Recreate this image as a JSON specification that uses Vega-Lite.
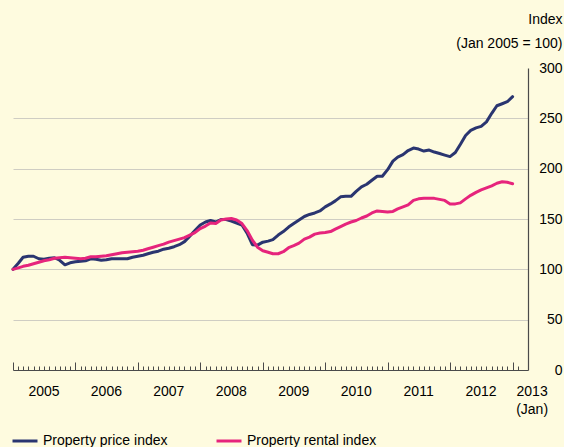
{
  "$schema": "https://vega.github.io/schema/vega-lite/v6.json",
  "width": 515,
  "height": 302,
  "autosize": {"type": "none"},
  "padding": {"left": 13, "top": 68, "right": 36, "bottom": 77},
  "background": "#fefbdf",
  "config": {"view": {"stroke": null}, "font": "Liberation Sans"},
  "data": {"values": [
    {"date": "2005-01-01", "price": 100, "rental": 100},
    {"date": "2005-02-01", "price": 106, "rental": 101.5},
    {"date": "2005-03-01", "price": 112, "rental": 103},
    {"date": "2005-04-01", "price": 113, "rental": 104},
    {"date": "2005-05-01", "price": 113, "rental": 105.5},
    {"date": "2005-06-01", "price": 110.5, "rental": 107},
    {"date": "2005-07-01", "price": 110, "rental": 108.5},
    {"date": "2005-08-01", "price": 111, "rental": 109.5},
    {"date": "2005-09-01", "price": 111.5, "rental": 111},
    {"date": "2005-10-01", "price": 109, "rental": 111.5},
    {"date": "2005-11-01", "price": 104.5, "rental": 112},
    {"date": "2005-12-01", "price": 106.5, "rental": 111.5},
    {"date": "2006-01-01", "price": 107.5, "rental": 111},
    {"date": "2006-02-01", "price": 108, "rental": 110.5},
    {"date": "2006-03-01", "price": 108.5, "rental": 111},
    {"date": "2006-04-01", "price": 110.5, "rental": 112.5},
    {"date": "2006-05-01", "price": 110, "rental": 112.5},
    {"date": "2006-06-01", "price": 109, "rental": 113},
    {"date": "2006-07-01", "price": 109.5, "rental": 113.5},
    {"date": "2006-08-01", "price": 110.5, "rental": 114.5},
    {"date": "2006-09-01", "price": 110.5, "rental": 115.5},
    {"date": "2006-10-01", "price": 110.5, "rental": 116.5},
    {"date": "2006-11-01", "price": 110.5, "rental": 117},
    {"date": "2006-12-01", "price": 112, "rental": 117.5},
    {"date": "2007-01-01", "price": 113, "rental": 118},
    {"date": "2007-02-01", "price": 114, "rental": 119},
    {"date": "2007-03-01", "price": 115.5, "rental": 120.5},
    {"date": "2007-04-01", "price": 117, "rental": 122},
    {"date": "2007-05-01", "price": 118, "rental": 123.5},
    {"date": "2007-06-01", "price": 120, "rental": 125},
    {"date": "2007-07-01", "price": 121, "rental": 127},
    {"date": "2007-08-01", "price": 122.5, "rental": 128.5},
    {"date": "2007-09-01", "price": 124.5, "rental": 130},
    {"date": "2007-10-01", "price": 127.5, "rental": 131.5},
    {"date": "2007-11-01", "price": 133, "rental": 134},
    {"date": "2007-12-01", "price": 138.5, "rental": 136.5},
    {"date": "2008-01-01", "price": 144, "rental": 140.5},
    {"date": "2008-02-01", "price": 147, "rental": 143},
    {"date": "2008-03-01", "price": 148.5, "rental": 146},
    {"date": "2008-04-01", "price": 147, "rental": 145.5},
    {"date": "2008-05-01", "price": 149.5, "rental": 149},
    {"date": "2008-06-01", "price": 149.5, "rental": 150},
    {"date": "2008-07-01", "price": 148, "rental": 150.5},
    {"date": "2008-08-01", "price": 146, "rental": 149},
    {"date": "2008-09-01", "price": 144, "rental": 145.5},
    {"date": "2008-10-01", "price": 136, "rental": 138.5},
    {"date": "2008-11-01", "price": 124.5, "rental": 129},
    {"date": "2008-12-01", "price": 124, "rental": 122},
    {"date": "2009-01-01", "price": 127, "rental": 118.5},
    {"date": "2009-02-01", "price": 128, "rental": 117},
    {"date": "2009-03-01", "price": 129.5, "rental": 115.5},
    {"date": "2009-04-01", "price": 134, "rental": 115.5},
    {"date": "2009-05-01", "price": 137.5, "rental": 117.5},
    {"date": "2009-06-01", "price": 142, "rental": 121.5},
    {"date": "2009-07-01", "price": 145.5, "rental": 123.5},
    {"date": "2009-08-01", "price": 149, "rental": 126},
    {"date": "2009-09-01", "price": 152.5, "rental": 130},
    {"date": "2009-10-01", "price": 154.5, "rental": 132},
    {"date": "2009-11-01", "price": 156, "rental": 135},
    {"date": "2009-12-01", "price": 158, "rental": 136},
    {"date": "2010-01-01", "price": 162, "rental": 136.5},
    {"date": "2010-02-01", "price": 165, "rental": 137.5},
    {"date": "2010-03-01", "price": 168, "rental": 140},
    {"date": "2010-04-01", "price": 172, "rental": 142.5},
    {"date": "2010-05-01", "price": 172.5, "rental": 145},
    {"date": "2010-06-01", "price": 172.5, "rental": 147},
    {"date": "2010-07-01", "price": 177.5, "rental": 148.5},
    {"date": "2010-08-01", "price": 182, "rental": 151},
    {"date": "2010-09-01", "price": 184.5, "rental": 153},
    {"date": "2010-10-01", "price": 188.5, "rental": 156},
    {"date": "2010-11-01", "price": 192.5, "rental": 158},
    {"date": "2010-12-01", "price": 192.5, "rental": 157.5},
    {"date": "2011-01-01", "price": 199, "rental": 157},
    {"date": "2011-02-01", "price": 207.5, "rental": 157.5},
    {"date": "2011-03-01", "price": 211.5, "rental": 160},
    {"date": "2011-04-01", "price": 214, "rental": 162},
    {"date": "2011-05-01", "price": 218, "rental": 164},
    {"date": "2011-06-01", "price": 220.5, "rental": 168.5},
    {"date": "2011-07-01", "price": 219.5, "rental": 170},
    {"date": "2011-08-01", "price": 217.5, "rental": 170.5},
    {"date": "2011-09-01", "price": 218.5, "rental": 170.5},
    {"date": "2011-10-01", "price": 216.5, "rental": 170.5},
    {"date": "2011-11-01", "price": 215, "rental": 169.5},
    {"date": "2011-12-01", "price": 213.5, "rental": 168.5},
    {"date": "2012-01-01", "price": 212, "rental": 165},
    {"date": "2012-02-01", "price": 216, "rental": 165},
    {"date": "2012-03-01", "price": 224, "rental": 166},
    {"date": "2012-04-01", "price": 233, "rental": 170},
    {"date": "2012-05-01", "price": 238, "rental": 173.5},
    {"date": "2012-06-01", "price": 240.5, "rental": 176.5},
    {"date": "2012-07-01", "price": 242, "rental": 179},
    {"date": "2012-08-01", "price": 246.5, "rental": 181},
    {"date": "2012-09-01", "price": 255, "rental": 183},
    {"date": "2012-10-01", "price": 262.5, "rental": 185.5},
    {"date": "2012-11-01", "price": 264.5, "rental": 187},
    {"date": "2012-12-01", "price": 266.5, "rental": 186.5},
    {"date": "2013-01-01", "price": 271.5, "rental": 185}
  ]},
  "transform": [{"fold": ["price", "rental"], "as": ["series", "value"]}],
  "mark": {"type": "line", "strokeWidth": 3, "strokeJoin": "round", "strokeCap": "round"},
  "encoding": {
    "x": {
      "field": "date",
      "type": "temporal",
      "scale": {"type": "utc", "domain": [{"year": 2005, "month": 1, "date": 1, "utc": true}, {"year": 2013, "month": 4, "date": 1, "utc": true}]},
      "axis": {
        "orient": "bottom",
        "title": null,
        "grid": false,
        "tickCount": {"interval": "month", "step": 1},
        "domainColor": "#4a4a4a",
        "domainWidth": 1.2,
        "tickColor": "#4a4a4a",
        "tickWidth": 1,
        "tickSize": {"expr": "datum.value > utc(2013,1,15) ? 0 : (utcmonth(datum.value) == 0 ? -8 : -4)"},
        "labelExpr": "utcmonth(datum.value) != 0 ? '' : (utcyear(datum.value) == 2013 ? ['2013', '(Jan)'] : utcFormat(datum.value, '%Y'))",
        "labelOffset": {"condition": {"test": "utcyear(datum.value) == 2013", "value": 19}, "value": 30.5},
        "labelPadding": 22,
        "labelBaseline": "top",
        "labelFontSize": 14,
        "labelColor": "#000000",
        "labelLineHeight": 18,
        "labelOverlap": false,
        "labelFlush": false,
        "labelBound": false
      }
    },
    "y": {
      "field": "value",
      "type": "quantitative",
      "scale": {"domain": [0, 300], "nice": false, "zero": true},
      "axis": {
        "orient": "right",
        "values": [0, 50, 100, 150, 200, 250, 300],
        "ticks": false,
        "grid": true,
        "gridColor": "#cfcdc3",
        "gridWidth": 1.2,
        "gridOpacity": {"condition": {"test": "datum.value == 0 || datum.value == 300", "value": 0}, "value": 1},
        "domain": true,
        "domainColor": "#4a4a4a",
        "domainWidth": 1.2,
        "labelAlign": "right",
        "labelBaseline": "middle",
        "labelPadding": 34,
        "labelFontSize": 14,
        "labelColor": "#000000",
        "title": ["Index", "(Jan 2005 = 100)"],
        "titleAngle": 0,
        "titleAlign": "right",
        "titleBaseline": "alphabetic",
        "titleX": 34,
        "titleY": -45,
        "titleFontSize": 14,
        "titleFontWeight": "normal",
        "titleLineHeight": 24,
        "titleColor": "#000000"
      }
    },
    "color": {
      "field": "series",
      "type": "nominal",
      "scale": {"domain": ["price", "rental"], "range": ["#2a3570", "#e6247c"]},
      "legend": {
        "orient": "none",
        "legendX": -2,
        "legendY": 359,
        "direction": "horizontal",
        "title": null,
        "padding": 0,
        "symbolType": "stroke",
        "symbolSize": 625,
        "symbolStrokeWidth": 3,
        "labelFontSize": 14,
        "labelColor": "#000000",
        "labelOffset": 4,
        "columnPadding": 42,
        "labelExpr": "datum.label == 'price' ? 'Property price index' : 'Property rental index'"
      }
    }
  }
}
